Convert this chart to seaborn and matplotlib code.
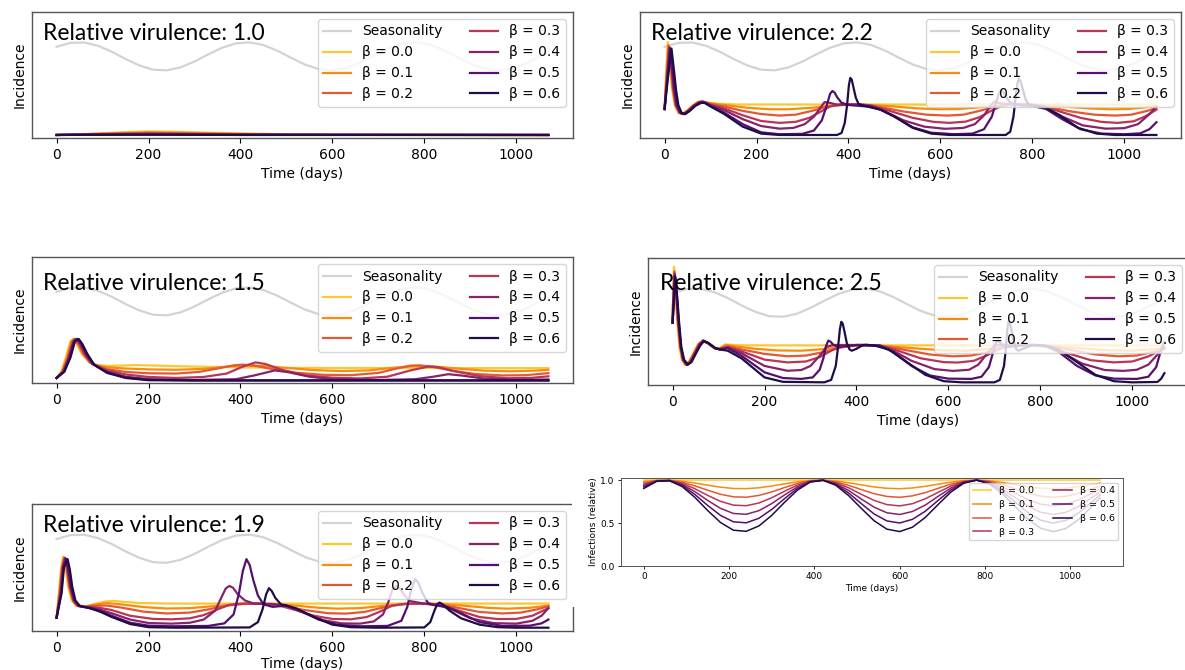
import matplotlib
matplotlib.use("Agg")
import matplotlib.pyplot as plt
import seaborn as sns
import pandas as pd
from matplotlib.patches import Rectangle

W, H = 1185, 670

BETAS = ["0.0", "0.1", "0.2", "0.3", "0.4", "0.5", "0.6"]

# grey seasonality curve (height as fraction of the panel, no y scale shown)
SEASON_T = [0, 30, 60, 90, 120, 150, 180, 210, 240, 270, 300, 330, 360, 390, 420, 450,
            480, 510, 540, 570, 600, 630, 660, 690, 720, 750, 780, 810, 840, 870, 900,
            930, 960, 990, 1020, 1050, 1070]
SEASON_Y = [0.724, 0.755, 0.758, 0.732, 0.685, 0.627, 0.576, 0.542, 0.537, 0.561, 0.607,
            0.664, 0.716, 0.751, 0.759, 0.738, 0.693, 0.637, 0.583, 0.547, 0.536, 0.555,
            0.598, 0.654, 0.708, 0.747, 0.760, 0.743, 0.702, 0.647, 0.592, 0.551, 0.536,
            0.550, 0.590, 0.645, 0.682]

# ---- incidence curves, (day, relative height) ----
V10 = [
    [(0, .024), (50, .028), (100, .038), (150, .047), (200, .052), (250, .05), (300, .045), (400, .037), (500, .03), (600, .026), (700, .025), (1070, .024)],
    [(0, .024), (100, .035), (200, .046), (300, .04), (400, .032), (500, .027), (600, .025), (1070, .024)],
    [(0, .024), (100, .032), (200, .04), (300, .035), (400, .029), (500, .026), (1070, .024)],
    [(0, .024), (100, .03), (200, .035), (300, .031), (400, .027), (600, .025), (1070, .024)],
    [(0, .024), (100, .028), (200, .031), (300, .028), (500, .025), (1070, .024)],
    [(0, .024), (100, .027), (200, .028), (300, .026), (1070, .024)],
    [(0, .024), (150, .026), (250, .026), (400, .024), (1070, .024)],
]

V22 = [
    [(0, .23), (3, .5), (7, .76), (11, .6), (16, .4), (22, .26), (30, .2), (38, .19), (48, .215), (60, .255), (72, .285), (80, .29), (95, .28), (120, .27), (160, .266), (1070, .265)],
    [(0, .23), (4, .5), (8, .74), (12, .6), (17, .4), (23, .26), (31, .2), (39, .19), (49, .215), (61, .255), (73, .285), (81, .29), (100, .275), (130, .262), (180, .24), (230, .228), (270, .228), (320, .24), (370, .258), (410, .265), (450, .262), (500, .25), (550, .235), (600, .228), (640, .23), (690, .245), (740, .26), (780, .265), (820, .262), (870, .25), (920, .235), (970, .228), (1010, .23), (1050, .245), (1070, .252)],
    [(0, .23), (5, .5), (9, .73), (13, .6), (18, .4), (24, .26), (32, .2), (40, .19), (50, .215), (62, .255), (74, .285), (82, .29), (100, .27), (130, .25), (170, .215), (210, .19), (250, .178), (285, .185), (320, .215), (355, .25), (390, .265), (430, .265), (470, .245), (520, .21), (570, .185), (615, .178), (650, .185), (685, .215), (720, .25), (755, .265), (795, .265), (835, .245), (885, .21), (935, .185), (980, .178), (1015, .185), (1050, .215), (1070, .24)],
    [(0, .23), (5, .48), (10, .72), (14, .6), (19, .4), (25, .26), (33, .2), (41, .19), (51, .215), (63, .255), (75, .285), (83, .288), (100, .265), (130, .235), (170, .18), (210, .135), (250, .12), (285, .128), (315, .16), (340, .21), (360, .25), (385, .268), (420, .268), (450, .258), (490, .215), (540, .16), (585, .128), (620, .12), (655, .13), (685, .165), (710, .215), (735, .258), (760, .27), (795, .268), (825, .252), (860, .21), (905, .16), (950, .128), (985, .12), (1020, .132), (1045, .17), (1070, .225)],
    [(0, .23), (6, .48), (11, .72), (15, .6), (20, .4), (26, .26), (34, .2), (42, .19), (52, .215), (64, .255), (76, .283), (84, .286), (100, .26), (130, .22), (170, .15), (210, .095), (250, .074), (280, .08), (305, .11), (325, .17), (340, .245), (348, .285), (358, .28), (375, .265), (420, .262), (450, .252), (480, .21), (520, .14), (565, .09), (610, .073), (650, .08), (675, .11), (695, .18), (710, .26), (718, .29), (730, .275), (760, .263), (800, .258), (830, .235), (865, .17), (910, .1), (960, .074), (1000, .078), (1030, .11), (1055, .19), (1070, .25)],
    [(0, .23), (6, .47), (12, .71), (16, .6), (21, .4), (27, .26), (35, .2), (43, .19), (53, .215), (65, .255), (77, .28), (85, .282), (100, .255), (130, .2), (170, .11), (210, .045), (250, .03), (300, .033), (325, .06), (342, .14), (352, .25), (360, .35), (365, .373), (370, .36), (376, .32), (385, .28), (400, .262), (440, .25), (470, .225), (500, .17), (540, .085), (580, .042), (630, .03), (670, .035), (695, .07), (712, .17), (721, .28), (728, .36), (732, .38), (737, .365), (744, .32), (752, .28), (770, .262), (800, .255), (830, .23), (865, .15), (905, .07), (950, .035), (1000, .03), (1035, .037), (1055, .07), (1070, .125)],
    [(0, .23), (7, .47), (15, .71), (20, .55), (25, .38), (30, .26), (37, .2), (45, .19), (55, .215), (67, .255), (79, .278), (87, .28), (100, .25), (130, .19), (170, .09), (210, .035), (250, .024), (375, .024), (385, .04), (392, .12), (397, .26), (401, .42), (404, .477), (407, .465), (411, .4), (416, .32), (422, .27), (432, .258), (450, .245), (470, .225), (500, .17), (540, .08), (580, .035), (620, .024), (742, .024), (752, .05), (759, .17), (764, .33), (768, .44), (771, .47), (774, .455), (779, .39), (785, .31), (792, .265), (810, .255), (830, .24), (860, .18), (900, .08), (940, .035), (980, .024), (1070, .024)],
]

V15 = [
    [(0, .04), (10, .09), (20, .2), (30, .33), (36, .35), (44, .31), (55, .23), (70, .17), (85, .145), (110, .135), (140, .138), (170, .142), (220, .138), (300, .13), (400, .124), (500, .12), (700, .119), (1070, .118)],
    [(0, .04), (12, .09), (22, .2), (32, .33), (38, .35), (46, .31), (57, .23), (72, .165), (87, .14), (110, .125), (150, .115), (200, .108), (260, .105), (320, .112), (370, .13), (410, .14), (450, .135), (500, .12), (560, .102), (620, .095), (680, .1), (730, .12), (780, .135), (820, .132), (870, .115), (930, .098), (990, .093), (1040, .098), (1070, .105)],
    [(0, .04), (13, .09), (24, .2), (34, .33), (40, .35), (48, .31), (59, .23), (74, .16), (89, .135), (110, .11), (150, .088), (200, .077), (260, .075), (310, .088), (350, .115), (385, .14), (405, .146), (430, .138), (470, .11), (520, .082), (580, .065), (640, .062), (700, .08), (740, .115), (770, .138), (790, .14), (820, .128), (860, .098), (910, .072), (970, .06), (1020, .062), (1070, .078)],
    [(0, .04), (14, .09), (26, .2), (36, .33), (42, .35), (50, .31), (61, .23), (76, .155), (91, .13), (110, .1), (150, .068), (200, .048), (260, .04), (320, .048), (370, .075), (405, .13), (433, .164), (455, .15), (490, .105), (540, .062), (600, .042), (660, .036), (720, .05), (770, .1), (808, .13), (830, .125), (870, .09), (920, .055), (980, .038), (1030, .04), (1070, .053)],
    [(0, .04), (15, .09), (27, .2), (37, .33), (44, .35), (52, .31), (63, .23), (78, .15), (93, .12), (110, .09), (150, .05), (200, .03), (300, .024), (390, .03), (430, .06), (475, .1), (505, .085), (550, .05), (600, .03), (700, .024), (780, .03), (820, .05), (852, .07), (880, .06), (930, .035), (1000, .025), (1070, .028)],
    [(0, .04), (16, .09), (28, .2), (38, .33), (46, .35), (54, .31), (65, .23), (80, .15), (95, .115), (110, .085), (150, .045), (200, .026), (300, .021), (1070, .021)],
    [(0, .04), (17, .09), (30, .2), (40, .33), (48, .35), (56, .31), (67, .23), (82, .145), (97, .11), (110, .08), (150, .04), (200, .022), (300, .02), (1070, .02)],
]

V25 = [
    [(0, .49), (1, .65), (3, .93), (6, .75), (10, .5), (15, .3), (20, .2), (27, .16), (35, .18), (45, .25), (55, .32), (65, .35), (75, .33), (90, .29), (100, .285), (115, .32), (130, .315), (160, .312), (1070, .312)],
    [(0, .49), (1, .65), (4, .9), (7, .74), (11, .5), (16, .3), (21, .2), (28, .16), (36, .18), (46, .25), (56, .32), (66, .35), (76, .33), (91, .29), (101, .285), (116, .315), (135, .305), (180, .285), (230, .272), (280, .27), (330, .283), (380, .305), (420, .313), (470, .305), (530, .288), (590, .273), (640, .27), (690, .283), (740, .305), (780, .313), (830, .305), (890, .288), (950, .273), (1000, .27), (1050, .283), (1070, .29)],
    [(0, .49), (1, .64), (4, .89), (8, .72), (12, .5), (17, .3), (22, .2), (29, .16), (37, .18), (47, .25), (57, .32), (66, .35), (77, .33), (92, .29), (102, .285), (120, .305), (150, .28), (200, .245), (250, .226), (290, .232), (330, .26), (370, .298), (410, .315), (450, .312), (500, .28), (560, .24), (610, .226), (650, .232), (690, .262), (730, .3), (770, .315), (810, .312), (860, .28), (920, .24), (970, .226), (1010, .232), (1050, .265), (1070, .285)],
    [(0, .49), (1, .63), (4, .88), (8, .72), (12, .5), (17, .3), (23, .2), (30, .16), (38, .18), (48, .25), (58, .32), (67, .35), (77, .33), (92, .29), (102, .283), (120, .3), (150, .265), (200, .2), (250, .178), (290, .185), (320, .22), (350, .28), (375, .31), (410, .317), (450, .312), (490, .27), (540, .21), (590, .18), (620, .177), (655, .19), (685, .235), (715, .295), (745, .315), (790, .315), (820, .3), (860, .25), (910, .195), (960, .178), (1000, .185), (1035, .225), (1070, .29)],
    [(0, .49), (2, .63), (5, .87), (9, .71), (13, .5), (18, .3), (23, .2), (31, .16), (39, .18), (49, .25), (59, .32), (67, .348), (77, .33), (92, .29), (102, .28), (120, .295), (150, .25), (200, .15), (250, .112), (280, .118), (300, .15), (320, .23), (335, .3), (350, .315), (400, .315), (450, .31), (480, .27), (520, .19), (570, .125), (610, .111), (645, .12), (665, .16), (685, .25), (700, .31), (720, .318), (780, .316), (820, .3), (850, .25), (890, .17), (940, .118), (980, .111), (1010, .12), (1035, .16), (1055, .24), (1070, .295)],
    [(0, .49), (2, .62), (5, .86), (9, .7), (13, .5), (18, .3), (24, .2), (32, .16), (40, .18), (50, .25), (60, .32), (68, .347), (78, .33), (93, .29), (103, .28), (120, .29), (150, .23), (200, .1), (240, .055), (280, .048), (305, .06), (320, .12), (328, .21), (334, .31), (339, .35), (344, .34), (350, .315), (360, .3), (375, .305), (400, .315), (450, .31), (480, .26), (520, .15), (560, .075), (600, .05), (650, .048), (672, .065), (688, .14), (696, .24), (702, .32), (706, .35), (711, .34), (717, .315), (727, .3), (745, .305), (770, .315), (810, .31), (840, .26), (880, .15), (920, .075), (960, .05), (1010, .048), (1035, .065), (1052, .14), (1063, .28), (1070, .34)],
    [(0, .49), (2, .62), (6, .85), (10, .7), (14, .5), (19, .3), (25, .2), (33, .16), (41, .18), (51, .25), (60, .31), (68, .345), (78, .33), (93, .29), (103, .28), (120, .27), (150, .21), (200, .06), (240, .025), (330, .021), (345, .04), (355, .15), (360, .3), (364, .44), (367, .497), (370, .485), (374, .42), (379, .33), (385, .28), (390, .27), (400, .285), (412, .31), (420, .317), (440, .31), (470, .28), (510, .18), (550, .08), (590, .03), (630, .021), (700, .021), (712, .04), (721, .15), (725, .28), (728, .43), (731, .5), (734, .49), (738, .42), (743, .33), (748, .28), (753, .27), (765, .29), (785, .317), (810, .31), (840, .28), (880, .18), (920, .08), (960, .03), (1000, .021), (1055, .024), (1063, .05), (1070, .093)],
]

V19 = [
    [(0, .105), (5, .3), (10, .5), (14, .584), (19, .5), (25, .35), (33, .24), (42, .2), (52, .19), (65, .195), (85, .215), (105, .232), (122, .237), (145, .23), (180, .22), (250, .216), (1070, .216)],
    [(0, .105), (6, .3), (11, .5), (16, .58), (21, .5), (27, .35), (35, .24), (44, .2), (54, .19), (67, .195), (87, .21), (110, .22), (140, .21), (190, .188), (240, .177), (290, .18), (340, .195), (390, .21), (430, .216), (470, .214), (520, .2), (570, .183), (610, .176), (660, .18), (710, .198), (760, .213), (800, .216), (840, .212), (890, .198), (940, .182), (980, .176), (1030, .183), (1070, .2)],
    [(0, .105), (7, .3), (12, .5), (17, .578), (22, .5), (28, .35), (36, .24), (45, .2), (55, .19), (68, .193), (88, .2), (110, .2), (140, .185), (190, .152), (240, .138), (290, .145), (330, .17), (370, .2), (410, .215), (450, .215), (490, .2), (540, .165), (590, .14), (630, .137), (670, .15), (710, .185), (750, .21), (790, .216), (830, .21), (870, .185), (920, .15), (970, .138), (1010, .145), (1045, .17), (1070, .195)],
    [(0, .105), (8, .3), (13, .5), (18, .575), (23, .5), (29, .35), (37, .24), (46, .2), (56, .19), (70, .19), (90, .185), (120, .165), (160, .12), (210, .095), (250, .092), (290, .1), (320, .125), (350, .17), (375, .205), (400, .215), (440, .216), (480, .205), (520, .165), (560, .12), (600, .095), (640, .092), (675, .11), (705, .155), (730, .2), (760, .215), (800, .215), (840, .2), (880, .155), (920, .11), (960, .094), (1000, .095), (1035, .12), (1070, .18)],
    [(0, .105), (9, .3), (14, .5), (19, .572), (24, .5), (30, .35), (38, .24), (47, .2), (57, .19), (72, .185), (92, .17), (120, .14), (160, .09), (200, .063), (250, .058), (290, .065), (320, .09), (345, .16), (358, .26), (368, .335), (376, .355), (384, .34), (394, .29), (410, .24), (430, .215), (470, .212), (500, .2), (540, .14), (580, .085), (620, .06), (660, .058), (690, .075), (710, .13), (722, .23), (731, .33), (739, .355), (747, .335), (757, .28), (770, .235), (800, .215), (830, .205), (860, .17), (900, .1), (950, .062), (1000, .058), (1035, .08), (1055, .12), (1070, .18)],
    [(0, .105), (10, .3), (15, .5), (20, .57), (25, .5), (31, .35), (39, .24), (48, .2), (58, .19), (74, .18), (94, .16), (120, .12), (160, .065), (200, .042), (250, .037), (330, .04), (365, .06), (385, .13), (397, .3), (405, .47), (413, .566), (420, .52), (428, .4), (438, .28), (450, .21), (470, .19), (500, .2), (530, .16), (570, .09), (610, .05), (660, .037), (720, .04), (750, .08), (763, .19), (772, .33), (780, .41), (787, .38), (796, .3), (808, .22), (825, .2), (850, .19), (880, .14), (920, .07), (970, .04), (1030, .042), (1055, .06), (1070, .09)],
    [(0, .105), (11, .3), (16, .5), (24, .566), (29, .48), (34, .35), (41, .24), (50, .2), (60, .19), (76, .175), (96, .15), (120, .11), (160, .055), (200, .03), (260, .026), (420, .028), (438, .07), (448, .17), (456, .29), (462, .337), (468, .315), (476, .26), (488, .21), (500, .2), (520, .18), (560, .11), (600, .05), (640, .03), (700, .026), (800, .028), (813, .07), (822, .16), (828, .21), (833, .224), (840, .21), (855, .16), (880, .1), (920, .05), (960, .03), (1000, .026), (1070, .026)],
]

# ---- small inset: relative infections (seasonal forcing) ----
REL_B = [
    [1.0] * 37,
    [0.984, 0.998, 0.999, 0.988, 0.966, 0.941, 0.918, 0.903, 0.901, 0.911, 0.932, 0.957, 0.981, 0.996, 1.000, 0.990, 0.970, 0.945, 0.921, 0.905, 0.900, 0.909, 0.928, 0.953, 0.977, 0.994, 1.000, 0.993, 0.974, 0.950, 0.925, 0.907, 0.900, 0.906, 0.924, 0.949, 0.965],
    [0.968, 0.995, 0.998, 0.975, 0.933, 0.882, 0.835, 0.806, 0.801, 0.822, 0.863, 0.914, 0.961, 0.992, 0.999, 0.980, 0.940, 0.890, 0.842, 0.810, 0.800, 0.817, 0.855, 0.905, 0.954, 0.988, 1.000, 0.985, 0.949, 0.899, 0.850, 0.814, 0.800, 0.813, 0.848, 0.897, 0.931],
    [0.952, 0.993, 0.997, 0.963, 0.899, 0.822, 0.753, 0.709, 0.702, 0.734, 0.795, 0.871, 0.942, 0.989, 0.999, 0.970, 0.911, 0.835, 0.764, 0.715, 0.700, 0.726, 0.783, 0.858, 0.931, 0.982, 1.000, 0.978, 0.923, 0.849, 0.775, 0.720, 0.700, 0.719, 0.772, 0.846, 0.896],
    [0.936, 0.990, 0.996, 0.950, 0.865, 0.763, 0.671, 0.612, 0.602, 0.645, 0.727, 0.828, 0.922, 0.985, 0.999, 0.960, 0.881, 0.780, 0.685, 0.620, 0.600, 0.635, 0.710, 0.811, 0.908, 0.976, 1.000, 0.970, 0.897, 0.798, 0.700, 0.627, 0.600, 0.626, 0.696, 0.795, 0.861],
    [0.920, 0.988, 0.995, 0.938, 0.832, 0.704, 0.589, 0.515, 0.503, 0.556, 0.659, 0.785, 0.903, 0.981, 0.999, 0.951, 0.851, 0.726, 0.606, 0.525, 0.501, 0.544, 0.638, 0.764, 0.885, 0.970, 1.000, 0.963, 0.872, 0.748, 0.625, 0.534, 0.500, 0.532, 0.620, 0.744, 0.827],
    [0.903, 0.986, 0.993, 0.925, 0.798, 0.645, 0.506, 0.417, 0.404, 0.467, 0.590, 0.742, 0.883, 0.977, 0.998, 0.941, 0.821, 0.671, 0.527, 0.429, 0.401, 0.452, 0.566, 0.716, 0.861, 0.964, 1.000, 0.956, 0.846, 0.697, 0.549, 0.441, 0.400, 0.438, 0.544, 0.692, 0.792],
]

PANELS = [
    ("1.0", V10, (32, 12, 573, 138), (43, 33), 4.0),
    ("2.2", V22, (640, 12, 1181, 138), (651, 33), 4.0),
    ("1.5", V15, (32, 257, 573, 383), (43, 283), 4.0),
    ("2.5", V25, (648, 258, 1189, 385), (660, 284), 4.0),
    ("1.9", V19, (32, 504, 573, 631), (43, 526), 1.5),
]
SMALL_BOX = (621, 478, 1123, 566)


def frac(box):
    l, t, r, b = box
    return [l / W, 1 - b / H, (r - l) / W, (b - t) / H]


pal = sns.color_palette("inferno_r", 7)
labels = [f"β = {b}" for b in BETAS]

fig = plt.figure(figsize=(W / 100, H / 100), dpi=100)

season_df = pd.DataFrame({"t": SEASON_T, "y": SEASON_Y})

for vir, curves, box, (tx, ty), xpad in PANELS:
    ax = fig.add_axes(frac(box))
    rows = []
    for lab, pts in zip(labels, curves):
        for t, y in pts:
            rows.append((lab, t, y))
    df = pd.DataFrame(rows, columns=["beta", "t", "y"])
    sns.lineplot(data=season_df, x="t", y="y", color="#d3d3d3", lw=1.6, ax=ax)
    sns.lineplot(data=df, x="t", y="y", hue="beta", hue_order=labels, palette=pal,
                 estimator=None, lw=1.6, ax=ax, legend=False)
    ax.set_xlim(-53.5, 1123.5)
    ax.set_ylim(0, 1)
    ax.set_yticks([])
    ax.set_xticks([0, 200, 400, 600, 800, 1000])
    ax.set_xlabel("Time (days)", fontsize=10, labelpad=xpad)
    ax.set_ylabel("Incidence", fontsize=10)
    ax.tick_params(axis="x", labelsize=10)
    for s in ax.spines.values():
        s.set_color("#555555")
        s.set_linewidth(1.0)
    ax.legend(handles=ax.lines[:8], labels=["Seasonality"] + labels, loc="upper right",
              ncol=2, fontsize=10)
    fig.text(tx / W, 1 - ty / H, f"Relative virulence: {vir}", family="Lato",
             fontsize=16.5, va="center", ha="left")

# white area of the pasted inset covering part of the last panel
fig.add_artist(Rectangle((572 / W, 1 - 607 / H), (W - 572) / W, (607 - 455) / H,
                         transform=fig.transFigure, facecolor="white",
                         edgecolor="none", zorder=0.5))

axs = fig.add_axes(frac(SMALL_BOX))
axs.set_zorder(1)
rows = []
for lab, vals in zip(labels, REL_B):
    for t, y in zip(SEASON_T, vals):
        rows.append((lab, t, y))
sdf = pd.DataFrame(rows, columns=["beta", "t", "y"])
sns.lineplot(data=sdf, x="t", y="y", hue="beta", hue_order=labels, palette=pal,
             estimator=None, lw=1.1, ax=axs, legend=False)
axs.set_xlim(-53.5, 1123.5)
axs.set_ylim(0, 1.025)
axs.set_yticks([0, 0.5, 1.0])
axs.set_yticklabels(["0.0", "0.5", "1.0"])
axs.set_xticks([0, 200, 400, 600, 800, 1000])
axs.tick_params(labelsize=6.5, length=2.5, width=0.6, pad=2)
axs.set_xlabel("Time (days)", fontsize=6.5, labelpad=2)
axs.set_ylabel("Infections (relative)", fontsize=6.5, labelpad=2)
for s in axs.spines.values():
    s.set_color("#555555")
    s.set_linewidth(0.7)
axs.legend(handles=axs.lines[:7], labels=labels, loc="upper right", ncol=2, fontsize=6.8)

fig.savefig("out.png", dpi=100)
